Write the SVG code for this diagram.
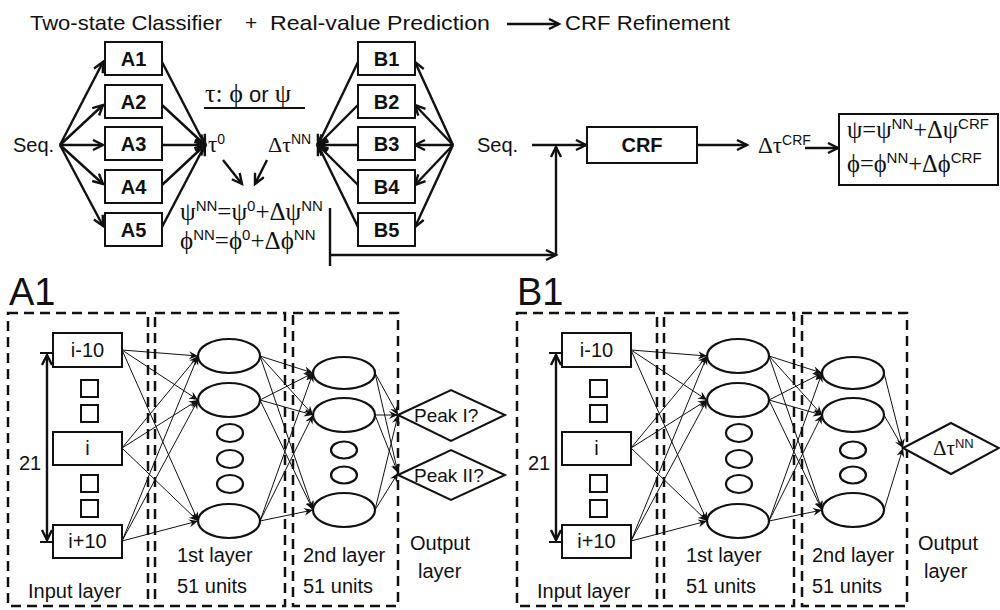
<svg xmlns="http://www.w3.org/2000/svg" width="1000" height="610" viewBox="0 0 1000 610">
<style>
.s{font-family:"Liberation Sans","DejaVu Sans",sans-serif;fill:#111}
.g{font-family:"Liberation Serif","DejaVu Serif",serif;fill:#111}
.title{font-size:21px}
.bl{font-size:20px;font-weight:bold;text-anchor:middle}
.box{fill:#fff;stroke:#111;stroke-width:2}
.ar{stroke:#111;stroke-width:2.4;fill:none}
.arr{stroke:#111;stroke-width:2.4;fill:none;marker-end:url(#ah)}
.net{stroke:#111;stroke-width:1;fill:none;marker-end:url(#nh)}
.ell{fill:#fff;stroke:#111;stroke-width:2.2}
.dash{fill:none;stroke:#111;stroke-width:2.5;stroke-dasharray:10 6}
.lab{font-size:20px}
.sup{font-size:14px}
.sup2{font-size:15px}
</style>
<defs>
<marker id="ah" markerUnits="userSpaceOnUse" markerWidth="14" markerHeight="14" refX="11" refY="6" orient="auto">
<path d="M1,1 L11,6 L1,11" fill="none" stroke="#111" stroke-width="2.4"/>
</marker>
<marker id="ahs" markerUnits="userSpaceOnUse" markerWidth="14" markerHeight="14" refX="11" refY="6" orient="auto-start-reverse">
<path d="M1,1 L11,6 L1,11" fill="none" stroke="#111" stroke-width="2.4"/>
</marker>
<marker id="nh" markerUnits="userSpaceOnUse" markerWidth="10" markerHeight="10" refX="9" refY="4" orient="auto">
<path d="M0,0 L9,4 L0,8 L3,4 Z" fill="#111"/>
</marker>
</defs>
<rect width="1000" height="610" fill="#fff"/>

<g id="title">
<text class="s title" x="30" y="30" textLength="192" lengthAdjust="spacingAndGlyphs">Two-state Classifier</text>
<text class="s title" x="245" y="30">+</text>
<text class="s title" x="270" y="30" textLength="220" lengthAdjust="spacingAndGlyphs">Real-value Prediction</text>
<line class="arr" x1="507" y1="24" x2="559" y2="24"/>
<text class="s title" x="565" y="30" textLength="165" lengthAdjust="spacingAndGlyphs">CRF Refinement</text>
</g>

<g id="connectors">
<line class="arr" x1="60" y1="145" x2="103" y2="62"/>
<line class="arr" x1="60" y1="145" x2="103" y2="105"/>
<line class="arr" x1="60" y1="145" x2="103" y2="145"/>
<line class="arr" x1="60" y1="145" x2="103" y2="184"/>
<line class="arr" x1="60" y1="145" x2="103" y2="226"/>
<line class="arr" x1="162" y1="62" x2="205" y2="145"/>
<line class="arr" x1="162" y1="105" x2="205" y2="145"/>
<line class="arr" x1="162" y1="145" x2="205" y2="145"/>
<line class="arr" x1="162" y1="185" x2="205" y2="145"/>
<line class="arr" x1="162" y1="227" x2="205" y2="145"/>
<line class="arr" x1="358" y1="62" x2="318" y2="145"/>
<line class="arr" x1="358" y1="105" x2="318" y2="145"/>
<line class="arr" x1="358" y1="145" x2="318" y2="145"/>
<line class="arr" x1="358" y1="185" x2="318" y2="145"/>
<line class="arr" x1="358" y1="227" x2="318" y2="145"/>
<line class="arr" x1="453" y1="145" x2="415" y2="62"/>
<line class="arr" x1="453" y1="145" x2="415" y2="105"/>
<line class="arr" x1="453" y1="145" x2="415" y2="145"/>
<line class="arr" x1="453" y1="145" x2="415" y2="185"/>
<line class="arr" x1="453" y1="145" x2="415" y2="227"/>
<line class="arr" x1="223" y1="160" x2="242" y2="184"/>
<line class="arr" x1="267" y1="160" x2="255" y2="184"/>
<line class="ar" x1="330" y1="208" x2="330" y2="266"/>
<line class="arr" x1="330" y1="255" x2="556" y2="255"/>
<line class="arr" x1="556" y1="255" x2="556" y2="147"/>
<line class="arr" x1="532" y1="145" x2="586" y2="145"/>
<line class="arr" x1="697" y1="145" x2="747" y2="145"/>
<line class="arr" x1="805" y1="148" x2="838" y2="148"/>
</g>

<g id="seq-left"><text class="s lab" x="13" y="152">Seq.</text></g>
<g id="A1"><rect class="box" x="105" y="42" width="57" height="33"/><text class="s bl" x="133.5" y="65.5">A1</text></g>
<g id="A2"><rect class="box" x="105" y="85" width="57" height="33"/><text class="s bl" x="133.5" y="108.5">A2</text></g>
<g id="A3"><rect class="box" x="105" y="127" width="57" height="33"/><text class="s bl" x="133.5" y="150.5">A3</text></g>
<g id="A4"><rect class="box" x="105" y="170" width="57" height="33"/><text class="s bl" x="133.5" y="193.5">A4</text></g>
<g id="A5"><rect class="box" x="105" y="213" width="57" height="33"/><text class="s bl" x="133.5" y="236.5">A5</text></g>

<g id="B1"><rect class="box" x="358" y="42" width="57" height="33"/><text class="s bl" x="386.5" y="65.5">B1</text></g>
<g id="B2"><rect class="box" x="358" y="85" width="57" height="33"/><text class="s bl" x="386.5" y="108.5">B2</text></g>
<g id="B3"><rect class="box" x="358" y="127" width="57" height="33"/><text class="s bl" x="386.5" y="150.5">B3</text></g>
<g id="B4"><rect class="box" x="358" y="170" width="57" height="33"/><text class="s bl" x="386.5" y="193.5">B4</text></g>
<g id="B5"><rect class="box" x="358" y="213" width="57" height="33"/><text class="s bl" x="386.5" y="236.5">B5</text></g>

<g id="tau-def">
<text x="205" y="102"><tspan class="g" font-size="26">τ: ϕ</tspan><tspan class="s" font-size="22"> or </tspan><tspan class="g" font-size="26">ψ</tspan></text>
<line x1="204" y1="108" x2="305" y2="108" stroke="#111" stroke-width="2"/>
</g>
<g id="tau0"><text x="208" y="152"><tspan class="g" font-size="23">τ</tspan><tspan class="s sup" dy="-8">0</tspan></text></g>
<g id="dtauNN"><text x="268" y="152"><tspan class="g" font-size="22">Δτ</tspan><tspan class="s sup" dy="-8">NN</tspan></text></g>

<g id="nn-formulas">
<text x="180" y="220" font-size="25"><tspan class="g">ψ</tspan><tspan class="s sup2" dy="-9">NN</tspan><tspan class="g" dy="9">=ψ</tspan><tspan class="s sup2" dy="-9">0</tspan><tspan class="g" dy="9">+Δψ</tspan><tspan class="s sup2" dy="-9">NN</tspan></text>
<text x="180" y="249" font-size="25"><tspan class="g">ϕ</tspan><tspan class="s sup2" dy="-9">NN</tspan><tspan class="g" dy="9">=ϕ</tspan><tspan class="s sup2" dy="-9">0</tspan><tspan class="g" dy="9">+Δϕ</tspan><tspan class="s sup2" dy="-9">NN</tspan></text>
</g>

<g id="seq-right"><text class="s lab" x="477" y="152">Seq.</text></g>
<g id="CRF"><rect class="box" x="587" y="127" width="110" height="36"/><text class="s bl" x="642" y="152">CRF</text></g>
<g id="dtauCRF"><text x="758" y="153"><tspan class="g" font-size="23">Δτ</tspan><tspan class="s sup" dy="-8">CRF</tspan></text></g>
<g id="result">
<rect class="box" x="839" y="114" width="159" height="71"/>
<text x="847" y="138" font-size="24.5"><tspan class="g">ψ=ψ</tspan><tspan class="s sup2" dy="-9">NN</tspan><tspan class="g" dy="9">+Δψ</tspan><tspan class="s sup2" dy="-9">CRF</tspan></text>
<text x="847" y="172" font-size="24.5"><tspan class="g">ϕ=ϕ</tspan><tspan class="s sup2" dy="-9">NN</tspan><tspan class="g" dy="9">+Δϕ</tspan><tspan class="s sup2" dy="-9">CRF</tspan></text>
</g>

<g id="net-A">
<text class="s" x="9" y="305" font-size="38">A1</text>
<rect class="dash" x="8" y="313" width="140" height="293"/>
<rect class="dash" x="155" y="313" width="130" height="293"/>
<rect class="dash" x="293" y="313" width="105" height="293"/>
<g id="A-connectors">
<line class="net" x1="122" y1="350" x2="198" y2="356"/>
<line class="net" x1="122" y1="350" x2="198" y2="400"/>
<line class="net" x1="122" y1="350" x2="198" y2="521"/>
<line class="net" x1="122" y1="448" x2="198" y2="356"/>
<line class="net" x1="122" y1="448" x2="198" y2="400"/>
<line class="net" x1="122" y1="448" x2="198" y2="521"/>
<line class="net" x1="122" y1="541" x2="198" y2="356"/>
<line class="net" x1="122" y1="541" x2="198" y2="400"/>
<line class="net" x1="122" y1="541" x2="198" y2="521"/>
<line class="net" x1="260" y1="356" x2="313" y2="373"/>
<line class="net" x1="260" y1="356" x2="313" y2="415"/>
<line class="net" x1="260" y1="356" x2="313" y2="510"/>
<line class="net" x1="260" y1="400" x2="313" y2="373"/>
<line class="net" x1="260" y1="400" x2="313" y2="415"/>
<line class="net" x1="260" y1="400" x2="313" y2="510"/>
<line class="net" x1="260" y1="521" x2="313" y2="373"/>
<line class="net" x1="260" y1="521" x2="313" y2="415"/>
<line class="net" x1="260" y1="521" x2="313" y2="510"/>
<line class="net" x1="375" y1="373" x2="398" y2="415"/>
<line class="net" x1="375" y1="415" x2="398" y2="415"/>
<line class="net" x1="375" y1="510" x2="398" y2="415"/>
<line class="net" x1="375" y1="373" x2="398" y2="473"/>
<line class="net" x1="375" y1="415" x2="398" y2="473"/>
<line class="net" x1="375" y1="510" x2="398" y2="473"/>
<line class="ar" x1="47" y1="355" x2="47" y2="540" marker-start="url(#ahs)" marker-end="url(#ah)"/>
<line x1="40" y1="353" x2="53" y2="353" stroke="#111" stroke-width="2"/>
<line x1="40" y1="542" x2="53" y2="542" stroke="#111" stroke-width="2"/>
</g>
<g id="A-input">
<rect class="box" x="53" y="333" width="69" height="34"/><text class="s lab" x="87.5" y="357" text-anchor="middle">i-10</text>
<rect class="box" x="81" y="380" width="17" height="17"/>
<rect class="box" x="81" y="405" width="17" height="17"/>
<rect class="box" x="53" y="432" width="69" height="33"/><text class="s lab" x="87.5" y="455" text-anchor="middle">i</text>
<rect class="box" x="81" y="475" width="17" height="17"/>
<rect class="box" x="81" y="500" width="17" height="17"/>
<rect class="box" x="53" y="525" width="69" height="33"/><text class="s lab" x="87.5" y="548" text-anchor="middle">i+10</text>
<text class="s lab" x="19" y="470">21</text>
<text class="s lab" x="28" y="598">Input layer</text>
</g>
<g id="A-layer1">
<ellipse class="ell" cx="229" cy="356" rx="31" ry="17"/>
<ellipse class="ell" cx="229" cy="400" rx="31" ry="17"/>
<ellipse class="ell" cx="230" cy="433" rx="13" ry="9"/>
<ellipse class="ell" cx="230" cy="459" rx="13" ry="9"/>
<ellipse class="ell" cx="230" cy="484" rx="13" ry="9"/>
<ellipse class="ell" cx="229" cy="521" rx="31" ry="17"/>
<text class="s lab" x="177" y="562">1st layer</text>
<text class="s lab" x="177" y="593">51 units</text>
</g>
<g id="A-layer2">
<ellipse class="ell" cx="344" cy="373" rx="31" ry="16"/>
<ellipse class="ell" cx="344" cy="415" rx="31" ry="17"/>
<ellipse class="ell" cx="344" cy="450" rx="13" ry="8.5"/>
<ellipse class="ell" cx="344" cy="475" rx="13" ry="8.5"/>
<ellipse class="ell" cx="344" cy="510" rx="31" ry="17"/>
<text class="s lab" x="303" y="562">2nd layer</text>
<text class="s lab" x="303" y="593">51 units</text>
</g>
<g id="A-output">
<polygon class="box" points="398,415 451,390 505,415 451,441"/>
<polygon class="box" points="398,475 451,450 505,475 451,500"/>
<text class="s" x="414" y="422" font-size="19">Peak I?</text>
<text class="s" x="414" y="482" font-size="19">Peak II?</text>
<text class="s lab" x="410" y="550">Output</text>
<text class="s lab" x="418" y="578">layer</text>
</g>
</g>

<g id="net-B" transform="translate(509,0)">
<text class="s" x="8" y="305" font-size="38">B1</text>
<rect class="dash" x="8" y="313" width="140" height="293"/>
<rect class="dash" x="155" y="313" width="130" height="293"/>
<rect class="dash" x="293" y="313" width="105" height="293"/>
<g id="B-connectors">
<line class="net" x1="122" y1="350" x2="198" y2="356"/>
<line class="net" x1="122" y1="350" x2="198" y2="400"/>
<line class="net" x1="122" y1="350" x2="198" y2="521"/>
<line class="net" x1="122" y1="448" x2="198" y2="356"/>
<line class="net" x1="122" y1="448" x2="198" y2="400"/>
<line class="net" x1="122" y1="448" x2="198" y2="521"/>
<line class="net" x1="122" y1="541" x2="198" y2="356"/>
<line class="net" x1="122" y1="541" x2="198" y2="400"/>
<line class="net" x1="122" y1="541" x2="198" y2="521"/>
<line class="net" x1="260" y1="356" x2="313" y2="373"/>
<line class="net" x1="260" y1="356" x2="313" y2="415"/>
<line class="net" x1="260" y1="356" x2="313" y2="510"/>
<line class="net" x1="260" y1="400" x2="313" y2="373"/>
<line class="net" x1="260" y1="400" x2="313" y2="415"/>
<line class="net" x1="260" y1="400" x2="313" y2="510"/>
<line class="net" x1="260" y1="521" x2="313" y2="373"/>
<line class="net" x1="260" y1="521" x2="313" y2="415"/>
<line class="net" x1="260" y1="521" x2="313" y2="510"/>
<line class="net" x1="375" y1="373" x2="394" y2="448"/>
<line class="net" x1="375" y1="415" x2="394" y2="448"/>
<line class="net" x1="375" y1="510" x2="394" y2="448"/>
<line class="ar" x1="47" y1="355" x2="47" y2="540" marker-start="url(#ahs)" marker-end="url(#ah)"/>
<line x1="40" y1="353" x2="53" y2="353" stroke="#111" stroke-width="2"/>
<line x1="40" y1="542" x2="53" y2="542" stroke="#111" stroke-width="2"/>
</g>
<g id="B-input">
<rect class="box" x="53" y="333" width="69" height="34"/><text class="s lab" x="87.5" y="357" text-anchor="middle">i-10</text>
<rect class="box" x="81" y="380" width="17" height="17"/>
<rect class="box" x="81" y="405" width="17" height="17"/>
<rect class="box" x="53" y="432" width="69" height="33"/><text class="s lab" x="87.5" y="455" text-anchor="middle">i</text>
<rect class="box" x="81" y="475" width="17" height="17"/>
<rect class="box" x="81" y="500" width="17" height="17"/>
<rect class="box" x="53" y="525" width="69" height="33"/><text class="s lab" x="87.5" y="548" text-anchor="middle">i+10</text>
<text class="s lab" x="19" y="470">21</text>
<text class="s lab" x="28" y="598">Input layer</text>
</g>
<g id="B-layer1">
<ellipse class="ell" cx="229" cy="356" rx="31" ry="17"/>
<ellipse class="ell" cx="229" cy="400" rx="31" ry="17"/>
<ellipse class="ell" cx="230" cy="433" rx="13" ry="9"/>
<ellipse class="ell" cx="230" cy="459" rx="13" ry="9"/>
<ellipse class="ell" cx="230" cy="484" rx="13" ry="9"/>
<ellipse class="ell" cx="229" cy="521" rx="31" ry="17"/>
<text class="s lab" x="177" y="562">1st layer</text>
<text class="s lab" x="177" y="593">51 units</text>
</g>
<g id="B-layer2">
<ellipse class="ell" cx="344" cy="373" rx="31" ry="16"/>
<ellipse class="ell" cx="344" cy="415" rx="31" ry="17"/>
<ellipse class="ell" cx="344" cy="450" rx="13" ry="8.5"/>
<ellipse class="ell" cx="344" cy="475" rx="13" ry="8.5"/>
<ellipse class="ell" cx="344" cy="510" rx="31" ry="17"/>
<text class="s lab" x="303" y="562">2nd layer</text>
<text class="s lab" x="303" y="593">51 units</text>
</g>
<g id="B-output">
<polygon class="box" points="394,448 442,423 490,448 442,474"/>
<text x="424" y="455"><tspan class="g" font-size="21">Δτ</tspan><tspan class="s" font-size="13" dy="-7">NN</tspan></text>
<text class="s lab" x="409" y="550">Output</text>
<text class="s lab" x="415" y="578">layer</text>
</g>
</g>
</svg>
